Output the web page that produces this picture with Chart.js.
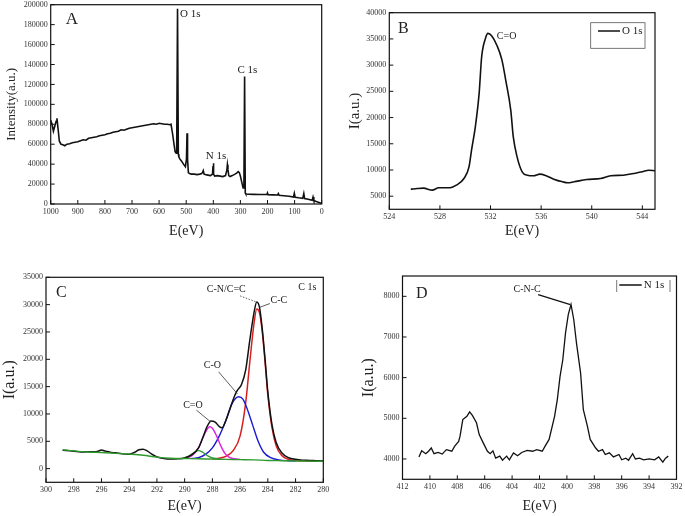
<!DOCTYPE html>
<html>
<head>
<meta charset="utf-8">
<script src="https://cdn.jsdelivr.net/npm/chart.js@4.4.0/dist/chart.umd.min.js"></script>
<style>
  body { margin: 0; background: #fff; }
  #wrap { position: relative; width: 685px; height: 516px; background: #fff; }
  canvas { position: absolute; }
</style>
</head>
<body>
<div id="wrap">
  <canvas id="chartA" width="335" height="245" style="left:0;top:0"></canvas>
  <canvas id="chartB" width="345" height="245" style="left:340px;top:0"></canvas>
  <canvas id="chartC" width="335" height="266" style="left:0;top:250px"></canvas>
  <canvas id="chartD" width="345" height="266" style="left:340px;top:250px"></canvas>
</div>
<script>
// ---- Panel A: survey spectrum ----
const surveyE = [1000, 995, 990, 985, 980, 977, 973, 968, 962, 955, 948, 940, 930, 920, 910, 900, 890, 880, 870, 860,
  850, 840, 830, 820, 810, 800, 790, 780, 770, 760, 750, 740, 730, 720, 710, 700, 690, 680, 670, 660, 650, 640, 630,
  620, 610, 600, 590, 580, 570, 560, 556, 550, 545, 541, 537, 535, 532, 529, 527, 523, 517, 510, 503, 499, 497, 495,
  492, 488, 480, 470, 460, 450, 443, 440, 437, 434, 430, 420, 410, 403, 401, 400, 398, 395, 385, 375, 365, 355, 350,
  348, 346, 343, 338, 330, 320, 314, 308, 304, 300, 295, 290, 287, 284.5, 282, 280, 270, 250, 230, 210, 202, 200, 198,
  180, 163, 160, 157, 140, 120, 104, 101, 98, 85, 70, 66, 63, 50, 35, 32, 29, 20, 10, 5, 0];
const surveyI = [84000, 80000, 73000, 78000, 83000, 86000, 76000, 63000, 60000, 59500, 58500, 60000, 60500, 61500, 62000,
  62500, 63500, 64500, 64000, 66000, 66500, 67000, 67500, 68500, 69000, 69500, 70500, 71000, 72000, 72500, 73000, 74500,
  74000, 75000, 76000, 76500, 77000, 77500, 78000, 78500, 79000, 79500, 80000, 80500, 80000, 81000, 80500, 80000, 80000,
  79500, 80000, 70000, 60000, 52500, 51000, 60000, 196000, 50000, 47000, 45000, 43000, 40000, 37500, 45000, 71000, 45000,
  31500, 30500, 30000, 30000, 29500, 30000, 30500, 31500, 33500, 30000, 29500, 29000, 28500, 30000, 38000, 41000, 30000,
  28000, 28500, 28000, 27500, 28500, 34000, 39500, 35000, 28500, 27500, 28500, 30000, 31000, 32500, 31500, 28000, 22000,
  16000, 20000, 128000, 11000, 10000, 9800, 9700, 9600, 9500, 9500, 11000, 9400, 9200, 9000, 10500, 8800, 8300, 7800,
  7000, 10700, 6800, 6200, 5700, 10500, 5500, 4800, 3800, 7000, 3500, 2500, 1500, 1000, 500];
const surveyXTicks = [1000, 900, 800, 700, 600, 500, 400, 300, 200, 100, 0];
const surveyYTicks = [0, 20000, 40000, 60000, 80000, 100000, 120000, 140000, 160000, 180000, 200000];

// ---- Panel B: O 1s ----
const o1sE = [525.7, 526.2, 526.7, 527.4, 527.9, 528.8, 529.3, 529.9, 530.3, 530.5, 530.8, 531.1, 531.3, 531.6, 531.8,
  532.1, 532.5, 532.9, 533.2, 533.6, 533.8, 534.1, 534.5, 534.9, 535.4, 535.9, 536.4, 537.0, 537.7, 538.1, 538.6, 539.6,
  540.7, 541.5, 542.5, 543.3, 544.0, 544.5, 545.0];
const o1sI = [6340, 6460, 6530, 6150, 6600, 6600, 7100, 8370, 10600, 13800, 18240, 24600, 31600, 35100, 36050, 35550,
  33800, 31000, 27150, 21400, 16300, 12500, 9650, 9000, 8900, 9200, 8900, 8250, 7740, 7550, 7740, 8180, 8370, 8900,
  9000, 9330, 9650, 9960, 9840];
const o1sXTicks = [524, 528, 532, 536, 540, 544];
const o1sYTicks = [5000, 10000, 15000, 20000, 25000, 30000, 35000, 40000];

// ---- Panel C: C 1s with fitted components ----
const c1sE = [298.8, 298.3, 297.8, 297.3, 296.8, 296.3, 296.0, 295.7, 295.3, 295.0, 294.5, 294.0, 293.6, 293.3, 293.0,
  292.7, 292.4, 292.0, 291.5, 291.0, 290.5, 290.0, 289.5, 289.0, 288.7, 288.4, 288.1, 287.8, 287.5, 287.3, 287.0, 286.7,
  286.4, 286.2, 285.9, 285.6, 285.3, 285.0, 284.8, 284.6, 284.4, 284.2, 284.0, 283.7, 283.4, 283.0, 282.5, 282.0, 281.5,
  281.0, 280.5, 280.0];
const c1sI = [3350, 3250, 3150, 3050, 3100, 3150, 3400, 3200, 2950, 2900, 2700, 2650, 3000, 3450, 3550, 3250, 2700, 2150,
  1850, 1750, 1800, 1950, 2500, 3800, 5600, 7600, 8700, 8500, 7700, 7500, 9000, 11200, 13300, 14300, 15400, 18000, 23500,
  28500, 30500, 29500, 25500, 20000, 14000, 8000, 4800, 2900, 2000, 1700, 1550, 1500, 1450, 1400];
const bgE = [298.8, 298, 297, 296, 295, 294, 293, 292, 291, 290, 289, 288, 287, 286, 285, 284, 283, 282, 281, 280];
const bgI = [3450, 3250, 3050, 2950, 2800, 2650, 2450, 2100, 1900, 1850, 1800, 1750, 1700, 1650, 1600, 1500, 1450, 1400,
  1380, 1350];
const ccE = [288, 287.5, 287, 286.5, 286, 285.6, 285.3, 285.0, 284.8, 284.6, 284.4, 284.2, 284.0, 283.7, 283.4, 283.0,
  282.5, 282, 281, 280];
const ccI = [1750, 1900, 2300, 3300, 6000, 12000, 19500, 26500, 29200, 28500, 25000, 19500, 13500, 7500, 4200, 2400,
  1700, 1500, 1400, 1350];
const coE = [289.5, 289, 288.5, 288, 287.5, 287, 286.6, 286.3, 286.1, 285.8, 285.5, 285.1, 284.7, 284.3, 283.8, 283.2,
  282.5, 282];
const coI = [1850, 2000, 2600, 3800, 6000, 9000, 11800, 12900, 13150, 12700, 11000, 8000, 5000, 3000, 2000, 1600, 1450,
  1400];
const cdoE = [290, 289.5, 289, 288.7, 288.4, 288.2, 288.0, 287.7, 287.4, 287.1, 286.8, 286.4, 286];
const cdoI = [1900, 2300, 3800, 5600, 7100, 7650, 7400, 6000, 4200, 2800, 2100, 1800, 1700];
const ocoE = [290.2, 289.7, 289.3, 289.0, 288.7, 288.3, 287.9, 287.5];
const ocoI = [1850, 2300, 3000, 3300, 3000, 2300, 1900, 1750];
const c1sXTicks = [300, 298, 296, 294, 292, 290, 288, 286, 284, 282, 280];
const c1sYTicks = [0, 5000, 10000, 15000, 20000, 25000, 30000, 35000];

// ---- Panel D: N 1s ----
const n1sE = [410.8, 410.6, 410.3, 410.1, 409.9, 409.7, 409.4, 409.1, 408.8, 408.4, 408.2, 407.9, 407.8, 407.6, 407.3,
  407.1, 406.9, 406.6, 406.4, 406.1, 405.8, 405.6, 405.4, 405.2, 404.9, 404.7, 404.4, 404.2, 403.9, 403.6, 403.3, 402.9,
  402.5, 402.2, 401.8, 401.6, 401.3, 400.9, 400.7, 400.5, 400.3, 400.1, 399.9, 399.7, 399.5, 399.3, 399.0, 398.8, 398.5,
  398.3, 397.9, 397.7, 397.4, 397.2, 396.9, 396.6, 396.2, 396.0, 395.7, 395.5, 395.2, 395.0, 394.7, 394.4, 394.0, 393.6,
  393.3, 393.0, 392.8, 392.6];
const n1sI = [4050, 4200, 4130, 4190, 4270, 4130, 4160, 4120, 4230, 4190, 4310, 4430, 4560, 4970, 5050, 5160, 5070, 4890,
  4600, 4390, 4190, 4130, 4200, 4020, 4070, 3970, 4070, 3980, 4150, 4080, 4160, 4210, 4190, 4230, 4190, 4310, 4480, 5050,
  5460, 6030, 6440, 7100, 7550, 7800, 7430, 6850, 6110, 5210, 4800, 4480, 4270, 4190, 4230, 4110, 4150, 4050, 4110, 3980,
  4020, 3970, 4130, 4000, 4020, 3980, 4000, 3980, 4050, 3920, 4020, 4070];
const n1sXTicks = [412, 410, 408, 406, 404, 402, 400, 398, 396, 394, 392];
const n1sYTicks = [4000, 5000, 6000, 7000, 8000];

const SERIF = '"Liberation Serif", "DejaVu Serif", serif';
const INK = '#111';

function pts(xs, ys) {
  return xs.map((x, i) => ({ x: x, y: ys[i] }));
}

function series(xs, ys, color, width, smooth) {
  return {
    data: pts(xs, ys),
    borderColor: color,
    borderWidth: width,
    pointRadius: 0,
    fill: false,
    tension: 0,
    cubicInterpolationMode: smooth ? 'monotone' : 'default'
  };
}

function xAxis(min, max, reverse, tickVals, height, title, titlePad) {
  return {
    type: 'linear', min: min, max: max, reverse: reverse,
    grid: { display: false, drawTicks: false },
    border: { display: false },
    afterBuildTicks: s => { s.ticks = tickVals.map(v => ({ value: v })); },
    afterFit: s => { s.height = height; s.paddingLeft = 0; s.paddingRight = 0; },
    ticks: { font: { family: SERIF, size: 8 }, color: '#333', padding: 3, maxRotation: 0, autoSkip: false,
      callback: v => String(v) },
    title: { display: true, text: title, font: { family: SERIF, size: 14 }, color: '#222',
      padding: { top: 0, bottom: titlePad } }
  };
}

function yAxis(min, max, tickVals, width, title, titleSize, titlePad) {
  return {
    type: 'linear', min: min, max: max,
    grid: { display: false, drawTicks: false },
    border: { display: false },
    afterBuildTicks: s => { s.ticks = tickVals.map(v => ({ value: v })); },
    afterFit: s => { s.width = width; s.paddingTop = 0; s.paddingBottom = 0; },
    ticks: { font: { family: SERIF, size: 8 }, color: '#333', padding: 3, autoSkip: false,
      callback: v => String(v) },
    title: { display: true, text: title, font: { family: SERIF, size: titleSize }, color: '#222',
      padding: { top: titlePad, bottom: 0 } }
  };
}

// frame, inward ticks, labels, leader lines and legend
const decoPlugin = {
  id: 'deco',
  afterDatasetsDraw(chart, args, opts) {
    const { ctx, chartArea: a, scales: { x, y } } = chart;
    ctx.save();
    ctx.strokeStyle = INK;
    ctx.lineWidth = 1.2;
    ctx.strokeRect(a.left, a.top, a.right - a.left, a.bottom - a.top);
    ctx.lineWidth = 1;
    ctx.beginPath();
    x.ticks.forEach(t => {
      const px = x.getPixelForValue(t.value);
      ctx.moveTo(px, a.bottom); ctx.lineTo(px, a.bottom - 4);
    });
    y.ticks.forEach(t => {
      const py = y.getPixelForValue(t.value);
      ctx.moveTo(a.left, py); ctx.lineTo(a.left + 4, py);
    });
    ctx.stroke();

    (opts.leaders || []).forEach(l => {
      ctx.beginPath();
      ctx.setLineDash(l.dash || []);
      ctx.lineWidth = l.width || 0.8;
      ctx.strokeStyle = l.color || '#333';
      ctx.moveTo(x.getPixelForValue(l.x1), y.getPixelForValue(l.y1));
      ctx.lineTo(x.getPixelForValue(l.x2), y.getPixelForValue(l.y2));
      ctx.stroke();
    });
    ctx.setLineDash([]);

    ctx.fillStyle = '#222';
    ctx.textBaseline = 'middle';
    (opts.texts || []).forEach(t => {
      ctx.font = (t.size || 11) + 'px ' + SERIF;
      ctx.textAlign = t.align || 'center';
      ctx.fillText(t.text, x.getPixelForValue(t.x), y.getPixelForValue(t.y));
    });

    const lg = opts.legend;
    if (lg) {
      ctx.strokeStyle = '#555';
      ctx.lineWidth = 0.8;
      if (lg.box) {
        ctx.strokeRect(a.right - lg.box[0], a.top + lg.box[1], lg.box[2], lg.box[3]);
      }
      if (lg.bars) {
        ctx.beginPath();
        lg.bars.forEach(bx => {
          ctx.moveTo(a.right - bx, a.top + lg.barY[0]);
          ctx.lineTo(a.right - bx, a.top + lg.barY[1]);
        });
        ctx.stroke();
      }
      ctx.strokeStyle = INK;
      ctx.lineWidth = 1.5;
      ctx.beginPath();
      ctx.moveTo(a.right - lg.line[0], a.top + lg.line[2]);
      ctx.lineTo(a.right - lg.line[1], a.top + lg.line[2]);
      ctx.stroke();
      ctx.font = '11px ' + SERIF;
      ctx.textAlign = 'left';
      ctx.fillText(lg.text, a.right - lg.line[1] + 2, a.top + lg.line[2]);
    }
    ctx.restore();
  }
};

function makeChart(id, datasets, scales, padding, deco) {
  return new Chart(document.getElementById(id), {
    type: 'line',
    data: { datasets: datasets },
    options: {
      responsive: false,
      animation: false,
      parsing: false,
      layout: { padding: padding },
      scales: scales,
      plugins: { legend: { display: false }, tooltip: { enabled: false }, deco: deco }
    },
    plugins: [decoPlugin]
  });
}

makeChart('chartA',
  [series(surveyE, surveyI, INK, 1.6, false)],
  {
    x: xAxis(0, 1000, true, surveyXTicks, 41, 'E(eV)', 5.6),
    y: yAxis(0, 200000, surveyYTicks, 50.7, 'Intensity(a.u.)', 13, 4.2)
  },
  { left: 0, top: 4.7, right: 13.3, bottom: 0 },
  {
    texts: [
      { text: 'A', x: 922, y: 185000, size: 17 },
      { text: 'O 1s', x: 523, y: 191000, size: 11, align: 'left' },
      { text: 'C 1s', x: 311, y: 134000, size: 11, align: 'left' },
      { text: 'N 1s', x: 428, y: 48000, size: 11, align: 'left' }
    ]
  });

makeChart('chartB',
  [series(o1sE, o1sI, INK, 1.6, true)],
  {
    x: xAxis(524, 545, false, o1sXTicks, 35.7, 'E(eV)', 4.9),
    y: yAxis(2500, 40000, o1sYTicks, 49.3, 'I(a.u.)', 15, 6)
  },
  { left: 0, top: 12.7, right: 30, bottom: 0 },
  {
    texts: [
      { text: 'B', x: 525.1, y: 37000, size: 16 },
      { text: 'C=O', x: 532.5, y: 35400, size: 10, align: 'left' }
    ],
    legend: { box: [64.3, 10, 54.3, 25.6], line: [57, 35, 18.3], text: 'O 1s' }
  });

makeChart('chartC',
  [
    series(bgE, bgI, '#2e9a2e', 1.4, true),
    series(c1sE, c1sI, INK, 1.5, true),
    series(ocoE, ocoI, '#2e9a2e', 1.3, true),
    series(cdoE, cdoI, '#e020e0', 1.4, true),
    series(coE, coI, '#1a1ad0', 1.4, true),
    series(ccE, ccI, '#d81f1f', 1.5, true)
  ],
  {
    x: xAxis(280, 300, true, c1sXTicks, 33.7, 'E(eV)', 0.9),
    y: yAxis(-2500, 35000, c1sYTicks, 46, 'I(a.u.)', 16, 0)
  },
  { left: 0, top: 27.3, right: 11.7, bottom: 0 },
  {
    texts: [
      { text: 'C', x: 298.9, y: 32100, size: 16 },
      { text: 'C 1s', x: 280.5, y: 33100, size: 10, align: 'right' },
      { text: 'C-N/C=C', x: 287.0, y: 32800, size: 10 },
      { text: 'C-C', x: 283.2, y: 30800, size: 10 },
      { text: 'C-O', x: 288.0, y: 18900, size: 10 },
      { text: 'C=O', x: 289.4, y: 11600, size: 10 }
    ],
    leaders: [
      { x1: 286.0, y1: 31600, x2: 284.85, y2: 30500, dash: [1.5, 1.5] },
      { x1: 283.85, y1: 30200, x2: 284.6, y2: 29500 },
      { x1: 287.55, y1: 17700, x2: 286.2, y2: 13700 },
      { x1: 289.15, y1: 10700, x2: 288.1, y2: 8500 }
    ]
  });

makeChart('chartD',
  [series(n1sE, n1sI, INK, 1.3, false)],
  {
    x: xAxis(392, 412, true, n1sXTicks, 36.7, 'E(eV)', 0.9),
    y: yAxis(3500, 8500, n1sYTicks, 62.5, 'I(a.u.)', 16, 18.7)
  },
  { left: 0, top: 26, right: 8.5, bottom: 0 },
  {
    texts: [
      { text: 'D', x: 410.6, y: 8057, size: 16 },
      { text: 'C-N-C', x: 402.9, y: 8180, size: 10 }
    ],
    leaders: [
      { x1: 402.1, y1: 8040, x2: 399.75, y2: 7795, width: 1.3, color: INK }
    ],
    legend: { bars: [59.8, 6.5], barY: [4, 16], line: [57.2, 34.8, 9], text: 'N 1s' }
  });
</script>
</body>
</html>
